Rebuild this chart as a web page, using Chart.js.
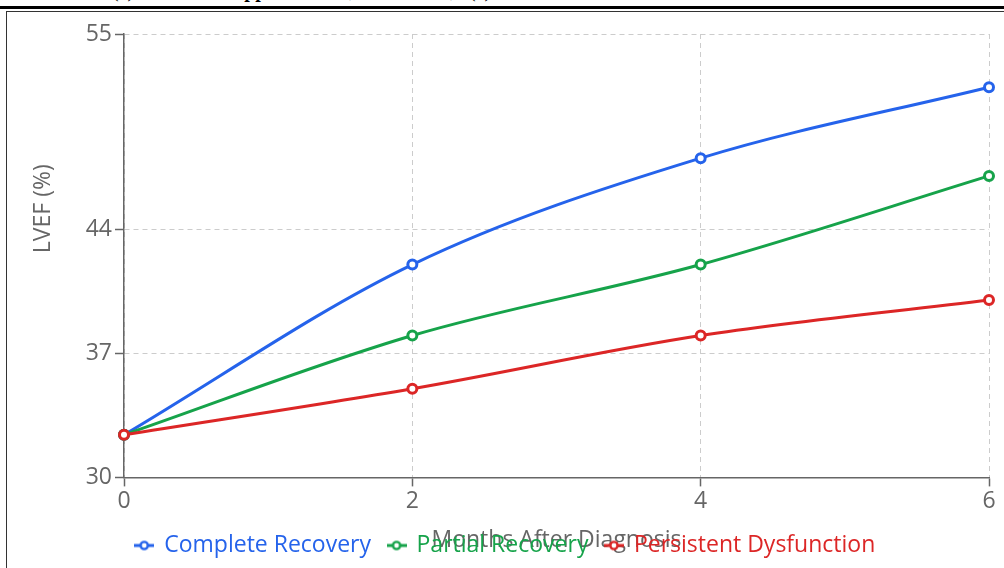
<!DOCTYPE html>
<html>
<head>
<meta charset="utf-8">
<script src="https://cdn.jsdelivr.net/npm/chart.js@4.4.1/dist/chart.umd.min.js"></script>
<style>
html,body{margin:0;padding:0;background:#fff;width:1004px;height:568px;overflow:hidden;position:relative;font-family:"Open Sans",sans-serif;}
#cap{position:absolute;left:0;top:-20px;height:20px;width:1004px;font:bold 20px/20px "Liberation Serif",serif;color:#000;white-space:nowrap;}
#cap span{position:absolute;top:0;}
#rule{position:absolute;left:0;top:6px;width:1004px;height:3px;background:#000;}
#box{position:absolute;left:6px;top:11px;width:1020px;height:620px;border:1px solid #333;box-sizing:border-box;}
#chart{position:absolute;left:7px;top:12px;}
</style>
</head>
<body>
<div id="cap"><span style="left:112px;font-weight:normal">(a)</span><span style="left:222px">Supp</span><span style="left:340px;font-weight:normal">a,</span><span style="left:440px;font-weight:normal">b,</span><span style="left:469px;font-weight:normal">(c)</span></div>
<div id="rule"></div>
<div id="box"></div>
<canvas id="chart" width="997" height="556"></canvas>
<script>
// ---- data ----
const months = [0, 2, 4, 6];
const completeRecovery = [32.4, 42, 48, 52];
const partialRecovery = [32.4, 38, 42, 47];
const persistentDysfunction = [32.4, 35, 38, 40];
const yTickValues = [30, 37, 44, 55];
const xTickValues = [0, 2, 4, 6];
const seriesNames = ['Complete Recovery', 'Partial Recovery', 'Persistent Dysfunction'];
const xTitle = 'Months After Diagnosis';
const yTitle = 'LVEF (%)';

const seriesColors = ['#2563eb', '#16a34a', '#dc2626'];
const FONT = '"Open Sans", sans-serif';

function legendIcon(color) {
  const c = document.createElement('canvas');
  c.width = 20; c.height = 12;
  const g = c.getContext('2d');
  g.strokeStyle = color; g.lineWidth = 3;
  g.beginPath(); g.moveTo(0, 6); g.lineTo(20, 6); g.stroke();
  g.beginPath(); g.arc(10, 6, 3.6, 0, Math.PI * 2);
  g.fillStyle = '#fff'; g.fill(); g.lineWidth = 2.4; g.stroke();
  return c;
}
const icons = seriesColors.map(legendIcon);

const seriesValues = [completeRecovery, partialRecovery, persistentDysfunction];
const datasets = seriesValues.map((vals, i) => ({
  label: seriesNames[i],
  data: months.map((m, j) => ({x: m, y: vals[j]})),
  borderColor: seriesColors[i],
  backgroundColor: '#fff',
  pointBackgroundColor: '#fff',
  pointBorderColor: seriesColors[i],
  pointRadius: 4.5,
  pointBorderWidth: 3,
  borderWidth: 3,
  cubicInterpolationMode: 'monotone',
  fill: false,
  clip: false,
  order: 3 - i
}));

const axisTitles = {
  id: 'axisTitles',
  beforeDraw(chart) {
    const {ctx, chartArea: a} = chart;
    ctx.save();
    ctx.fillStyle = '#666';
    ctx.font = '23px ' + FONT;
    ctx.textAlign = 'center';
    ctx.textBaseline = 'alphabetic';
    ctx.fillText(xTitle, (a.left + a.right) / 2, a.bottom + 70);
    ctx.translate(43, (a.top + a.bottom) / 2 - 47);
    ctx.rotate(-Math.PI / 2);
    ctx.fillText(yTitle, 0, 0);
    ctx.restore();
  }
};

const gridCommon = {
  color: '#cccccc',
  lineWidth: 1,
  tickColor: '#666',
  tickLength: 9,
  tickWidth: 1.5,
  borderDash: [5, 4]
};

new Chart(document.getElementById('chart'), {
  type: 'line',
  data: {datasets},
  options: {
    responsive: false,
    animation: false,
    devicePixelRatio: 1,
    layout: {padding: {left: 0, right: 0, top: 22, bottom: 1}},
    font: {family: FONT},
    plugins: {
      tooltip: {enabled: false},
      legend: {
        position: 'bottom',
        labels: {
          usePointStyle: true,
          pointStyleWidth: 17,
          boxHeight: 12,
          padding: 17,
          font: {size: 23, family: FONT},
          generateLabels(chart) {
            return chart.data.datasets.map((ds, i) => ({
              text: ds.label,
              fillStyle: '#fff',
              strokeStyle: ds.borderColor,
              fontColor: ds.borderColor,
              pointStyle: icons[i],
              lineWidth: 0,
              hidden: false,
              datasetIndex: i
            }));
          }
        }
      }
    },
    scales: {
      x: {
        type: 'linear',
        min: 0, max: 6,
        afterBuildTicks(s) { s.ticks = xTickValues.map(v => ({value: v})); },
        afterFit(s) { s.paddingRight = 15; },
        ticks: {color: '#666', font: {size: 23, family: FONT}, padding: 1.5, maxRotation: 0},
        grid: gridCommon,
        border: {color: '#666', width: 1.5, dash: [5, 4]}
      },
      y: {
        type: 'linear',
        min: 30, max: 55,
        afterBuildTicks(s) { s.ticks = yTickValues.map(v => ({value: v})); },
        afterFit(s) { s.width = 117; },
        ticks: {color: '#666', font: {size: 23, family: FONT}, padding: 3},
        grid: gridCommon,
        border: {color: '#666', width: 1.5, dash: [5, 4]}
      }
    }
  },
  plugins: [axisTitles]
});
</script>
</body>
</html>
